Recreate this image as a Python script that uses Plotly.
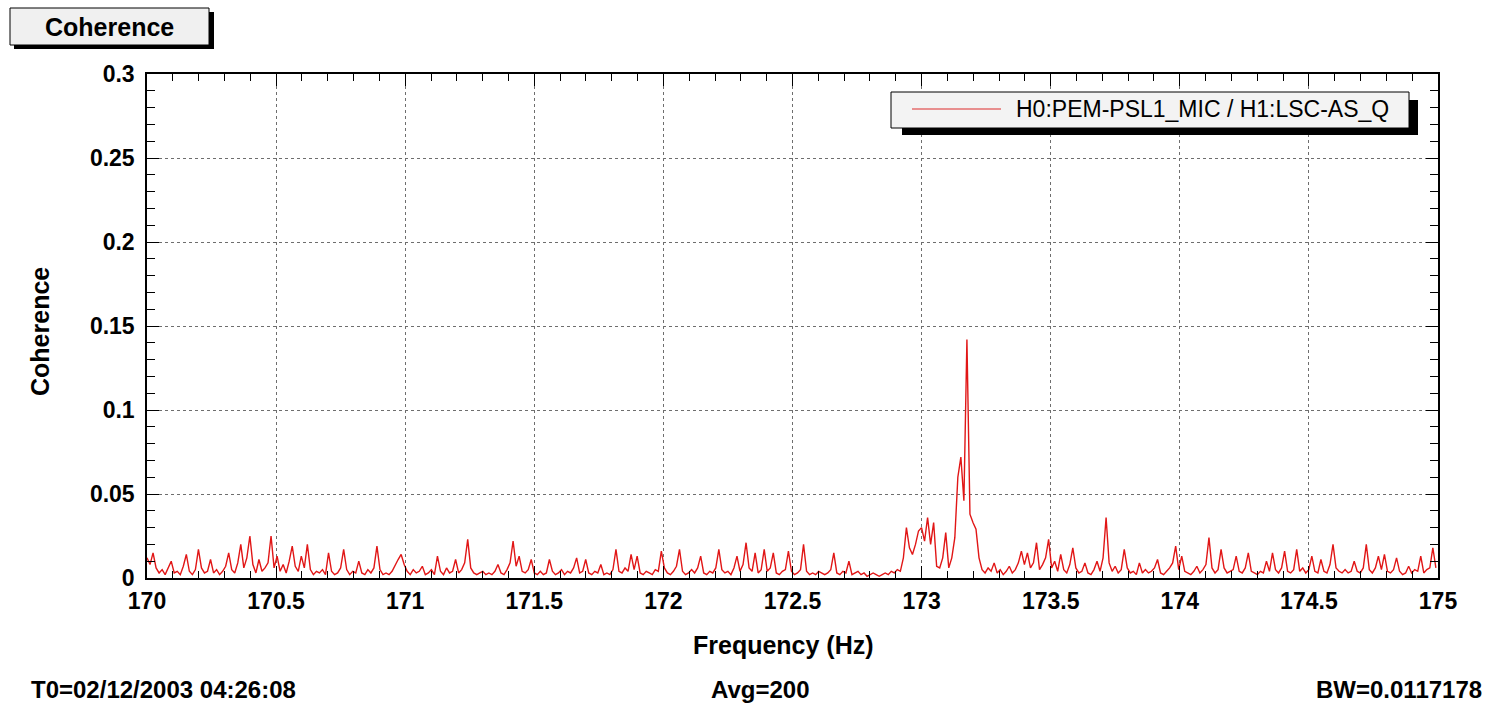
import numpy as np
import plotly.graph_objects as go

# ---------------- data ----------------
f_start = 170.0
bandwidth = 0.0117178          # frequency bin width (Hz)
series_name = "H0:PEM-PSL1_MIC / H1:LSC-AS_Q"

# coherence values in thousandths, one per frequency bin
coherence_milli = [
    12, 8, 15, 6, 3, 5, 2, 6, 10, 3, 4, 2, 7, 14, 4, 2, 5, 17, 6, 3,
    4, 11, 3, 5, 2, 4, 7, 15, 5, 3, 9, 20, 6, 12, 25, 8, 3, 11, 4, 6,
    9, 25, 6, 13, 4, 8, 3, 10, 19, 7, 4, 13, 6, 20, 5, 2, 4, 3, 5, 2,
    15, 4, 2, 3, 6, 17, 5, 2, 4, 3, 10, 3, 2, 5, 3, 6, 19, 5, 2, 3,
    2, 4, 8, 11, 14, 8, 4, 2, 5, 3, 4, 7, 2, 3, 5, 2, 13, 4, 2, 6,
    3, 4, 11, 3, 5, 9, 23, 6, 3, 2, 3, 4, 2, 3, 2, 4, 8, 3, 2, 5,
    9, 22, 7, 13, 4, 3, 5, 11, 3, 2, 4, 2, 3, 11, 4, 2, 3, 5, 2, 4,
    3, 6, 12, 3, 4, 11, 3, 2, 4, 3, 8, 2, 3, 2, 5, 17, 4, 3, 6, 4,
    14, 5, 13, 3, 2, 4, 3, 2, 5, 4, 16, 6, 3, 2, 4, 7, 17, 4, 2, 3,
    5, 3, 6, 13, 3, 2, 4, 3, 6, 17, 5, 3, 4, 2, 6, 13, 4, 8, 21, 6,
    4, 15, 3, 5, 17, 4, 6, 15, 3, 2, 4, 5, 16, 4, 2, 3, 5, 20, 4, 2,
    3, 2, 4, 3, 2, 3, 5, 15, 3, 2, 4, 3, 10, 2, 3, 4, 2, 3, 1, 2,
    3, 2, 1, 2, 3, 2, 4, 3, 5, 4, 12, 30, 18, 14, 20, 28, 30, 22, 36, 20,
    33, 7, 6, 12, 27, 6, 12, 24, 60, 72, 46, 142, 38, 33, 29, 12, 5, 3, 6, 4,
    9, 3, 5, 2, 4, 7, 3, 5, 9, 16, 8, 15, 6, 9, 21, 5, 8, 12, 23, 6,
    10, 4, 14, 5, 3, 8, 18, 6, 3, 4, 9, 3, 2, 5, 10, 4, 12, 36, 9, 4,
    7, 3, 5, 17, 6, 3, 4, 2, 9, 3, 5, 3, 4, 6, 11, 3, 2, 4, 6, 9,
    19, 5, 13, 4, 3, 2, 4, 7, 3, 5, 8, 24, 6, 3, 5, 17, 6, 3, 4, 5,
    13, 4, 3, 6, 15, 4, 3, 2, 4, 3, 10, 4, 15, 5, 3, 6, 16, 4, 3, 5,
    17, 4, 6, 3, 5, 13, 4, 3, 11, 4, 3, 8, 20, 6, 4, 3, 5, 3, 4, 10,
    4, 3, 6, 20, 5, 3, 6, 13, 5, 14, 4, 3, 5, 12, 4, 2, 3, 7, 3, 5,
    4, 13, 3, 5, 6, 18, 6,
]

x_ticks = [170, 170.5, 171, 171.5, 172, 172.5, 173, 173.5, 174, 174.5, 175]
x_tick_text = ["170", "170.5", "171", "171.5", "172", "172.5", "173", "173.5", "174", "174.5", "175"]
y_ticks = [0, 0.05, 0.1, 0.15, 0.2, 0.25, 0.3]
y_tick_text = ["0", "0.05", "0.1", "0.15", "0.2", "0.25", "0.3"]

title_text = "Coherence"
x_title = "Frequency (Hz)"
y_title = "Coherence"
footer_left = "T0=02/12/2003 04:26:08"
footer_mid = "Avg=200"
footer_right = "BW=0.0117178"

freq = f_start + np.arange(len(coherence_milli)) * bandwidth
coh = np.array(coherence_milli) / 1000.0

# ---------------- geometry (page pixels) ----------------
W, H = 1490, 703
PLOT_L, PLOT_R, PLOT_T, PLOT_B = 147, 1438, 74, 578   # plot area in page pixels
L, R, T, B = PLOT_L, W - PLOT_R, PLOT_T, H - PLOT_B
PW, PH = PLOT_R - PLOT_L, PLOT_B - PLOT_T


def px(xp):
    return (xp - PLOT_L) / PW


def py(yp):
    return (PLOT_B - yp) / PH


BOLD = "Liberation Sans"
LINE_RED = "rgb(225,22,22)"

fig = go.Figure()
fig.add_trace(go.Scatter(
    x=freq, y=coh, mode="lines", name=series_name,
    line=dict(color=LINE_RED, width=1.4), showlegend=False,
))

axis_common = dict(
    showline=True, linecolor="black", linewidth=1.5, mirror="allticks",
    ticks="inside", tickcolor="black", ticklen=12, tickwidth=1,
    showgrid=True, gridcolor="rgb(110,110,110)", griddash="dot", gridwidth=1,
    zeroline=False,
    tickfont=dict(family=BOLD, size=23, color="black", weight="bold"),
)

fig.update_xaxes(
    range=[170, 175], tickmode="array", tickvals=x_ticks, ticktext=x_tick_text,
    minor=dict(dtick=0.1, ticks="inside", ticklen=7, tickcolor="black", showgrid=False),
    ticklabelstandoff=2,
    **axis_common,
)
fig.update_yaxes(
    range=[0, 0.3], tickmode="array", tickvals=y_ticks, ticktext=y_tick_text,
    minor=dict(dtick=0.01, ticks="inside", ticklen=8, tickcolor="black", showgrid=False),
    ticklabelstandoff=6,
    **axis_common,
)

shapes = []
# title box with shadow
shapes.append(dict(type="rect", xref="paper", yref="paper",
                   x0=px(14), x1=px(214), y0=py(49), y1=py(12),
                   fillcolor="black", line=dict(width=0), layer="above"))
shapes.append(dict(type="rect", xref="paper", yref="paper",
                   x0=px(10), x1=px(209), y0=py(45), y1=py(8),
                   fillcolor="rgb(240,240,240)", line=dict(color="black", width=1), layer="above"))
# legend box with shadow
shapes.append(dict(type="rect", xref="paper", yref="paper",
                   x0=px(902), x1=px(1418), y0=py(135), y1=py(100),
                   fillcolor="black", line=dict(width=0), layer="above"))
shapes.append(dict(type="rect", xref="paper", yref="paper",
                   x0=px(891), x1=px(1409), y0=py(128), y1=py(92),
                   fillcolor="rgb(243,243,243)", line=dict(color="black", width=1), layer="above"))
shapes.append(dict(type="line", xref="paper", yref="paper",
                   x0=px(912), x1=px(1001), y0=py(109), y1=py(109),
                   line=dict(color="rgb(228,110,110)", width=1.5), layer="above"))


def note(text, xp, yp, xanchor="center", size=25, bold=True, angle=0):
    return dict(text=text, x=px(xp), y=py(yp), xref="paper", yref="paper",
                xanchor=xanchor, yanchor="middle", showarrow=False, textangle=angle,
                font=dict(family=BOLD, size=size, color="black",
                          weight="bold" if bold else "normal"))


annotations = [
    note(title_text, 109, 27, size=25),
    note(series_name, 1014, 109, xanchor="left", size=23, bold=False),
    note(x_title, 783, 645),
    note(y_title, 40, 332, angle=-90),
    note(footer_left, 29, 689, xanchor="left", size=24),
    note(footer_mid, 760, 689, size=24),
    note(footer_right, 1484, 689, xanchor="right", size=24),
]

fig.update_layout(
    width=W, height=H, autosize=False,
    margin=dict(l=L, r=R, t=T, b=B, pad=0),
    paper_bgcolor="white", plot_bgcolor="white",
    shapes=shapes, annotations=annotations, showlegend=False,
)

fig.write_html(
    "out.html",
    config={"displayModeBar": False},
    post_script="document.body.style.margin='0';document.body.style.overflow='hidden';",
)
